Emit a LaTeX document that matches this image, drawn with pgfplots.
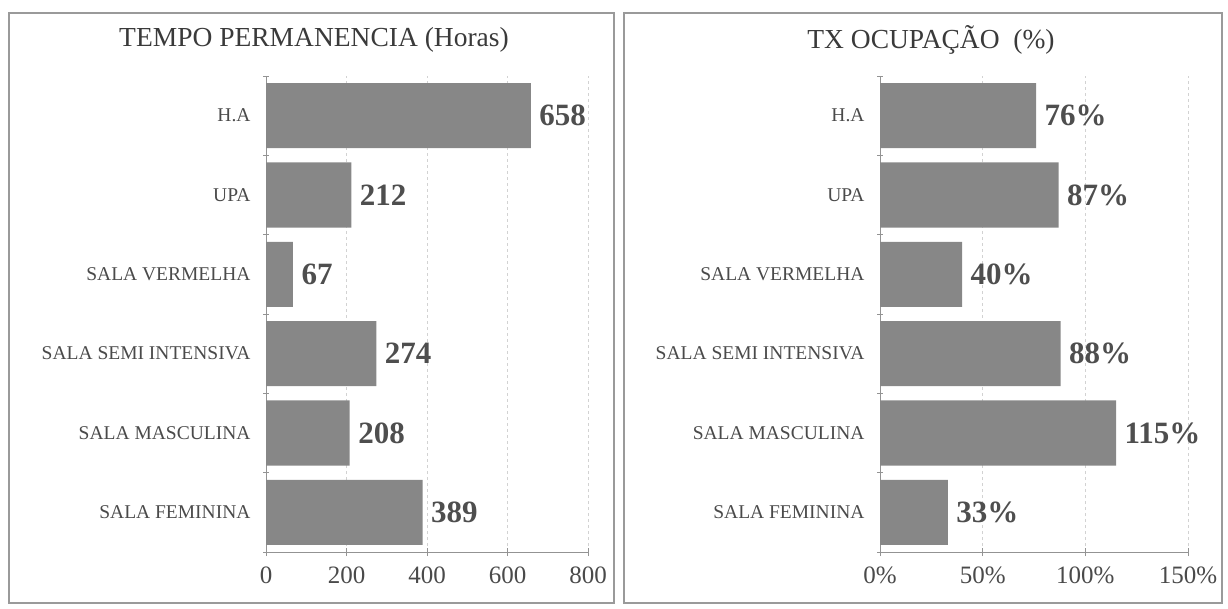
\documentclass[border=0pt]{standalone}
\usepackage{fontspec}
\setmainfont{Liberation Serif}
\usepackage{pgfplots}
\pgfplotsset{compat=1.18}
\definecolor{barc}{HTML}{878787}
\definecolor{valc}{HTML}{4E4E4E}
\definecolor{labc}{HTML}{4A4A4A}
\definecolor{titlec}{HTML}{3A3A3A}
\definecolor{framec}{HTML}{9A9A9A}
\pgfplotsset{
  panel/.style={
    scale only axis, height=476pt, xbar, bar width=0.82,
    /pgf/number format/assume math mode=true,
    ymin=-0.5, ymax=5.5, ytick={0,...,5},
    yticklabels={SALA FEMININA,SALA MASCULINA,SALA SEMI INTENSIVA,SALA VERMELHA,UPA,H.A},
    minor ytick={-0.5,0.5,...,5.5},
    axis x line=bottom, axis y line=left,
    axis line style={-, draw=gray!85, line width=0.8pt},
    xmajorgrids, grid style={dashed, gray!35, line width=0.6pt},
    tick align=center, major tick length=8pt, minor tick length=6pt,
    major y tick style={draw=none},
    tick style={gray!85, line width=0.8pt},
    yticklabel style={font=\fontsize{19.5}{19.5}\selectfont, text=labc, xshift=-8pt},
    xticklabel style={font=\fontsize{25}{25}\selectfont, text=labc, yshift=-7pt},
    point meta=x,
    every node near coord/.append style={font=\bfseries\fontsize{31}{31}\selectfont, text=valc, xshift=5pt},
    clip=false,
  }
}
\begin{document}
\begin{tikzpicture}[x=1pt,y=1pt]
\path[use as bounding box] (0,0) rectangle (1228,608);
\draw[framec, line width=1.2pt] (9,5) rectangle (614,595);
\draw[framec, line width=1.2pt] (624,5) rectangle (1222,595);
\node[font=\fontsize{27.5}{27.5}\selectfont, text=titlec] at (314,568) {TEMPO PERMANENCIA (Horas)};
\node[font=\fontsize{27.5}{27.5}\selectfont, text=titlec] at (931,568) {TX OCUPAÇÃO\ \ (\%)};
\begin{axis}[panel, at={(266pt,56pt)}, anchor=south west, width=322pt,
  xmin=0, xmax=800, xtick={0,200,400,600,800}, xticklabels={0,200,400,600,800},
  nodes near coords={\textbf{\pgfmathprintnumber{\pgfplotspointmeta}}}]
\addplot[fill=barc, draw=none] coordinates {(389,0) (208,1) (274,2) (67,3) (212,4) (658,5)};
\end{axis}
\begin{axis}[panel, at={(880pt,56pt)}, anchor=south west, width=308pt,
  xmin=0, xmax=150, xtick={0,50,100,150}, xticklabels={0\%,50\%,100\%,150\%},
  nodes near coords={\textbf{\pgfmathprintnumber{\pgfplotspointmeta}\%}}]
\addplot[fill=barc, draw=none] coordinates {(33,0) (115,1) (88,2) (40,3) (87,4) (76,5)};
\end{axis}
\end{tikzpicture}
\end{document}
